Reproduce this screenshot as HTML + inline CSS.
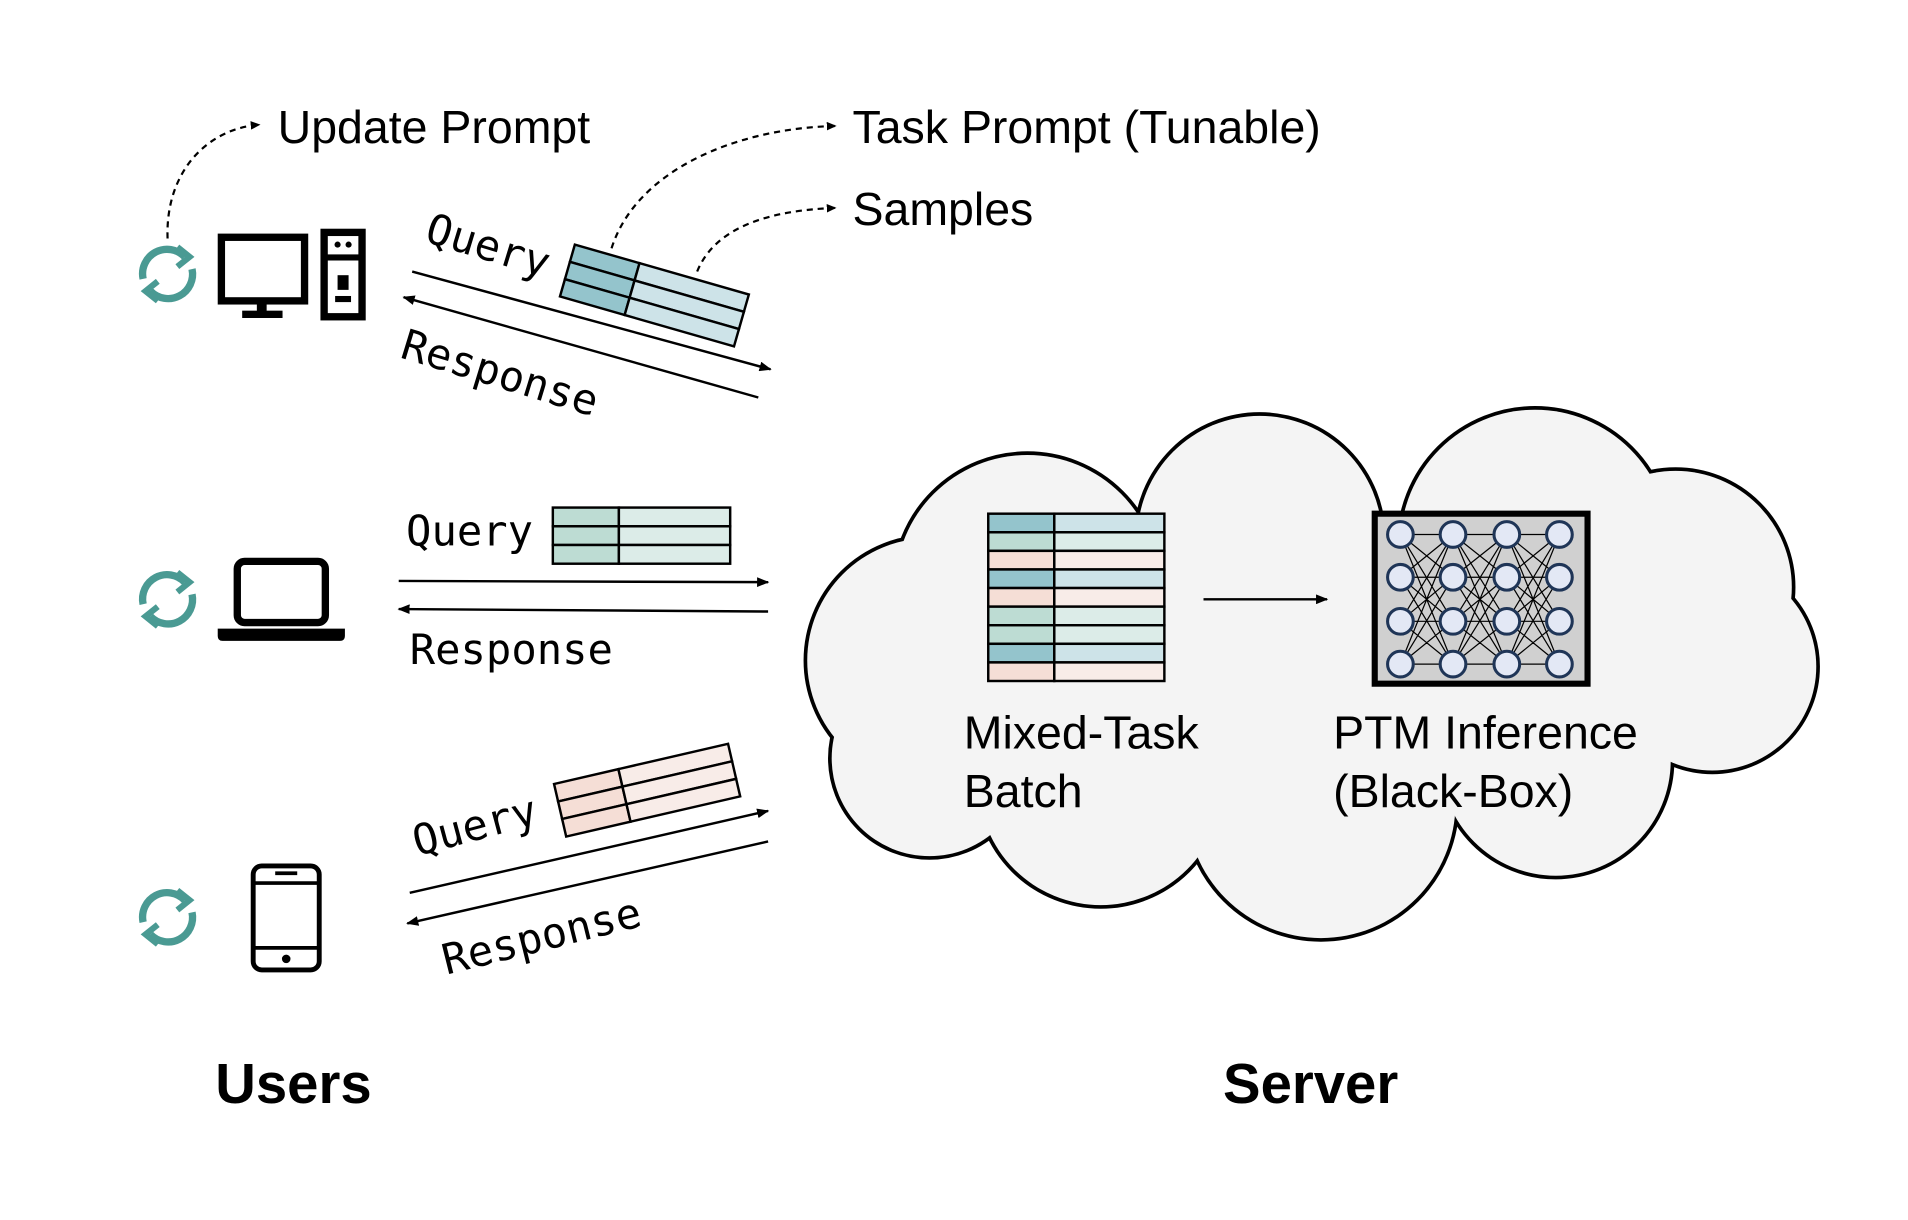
<!DOCTYPE html>
<html><head><meta charset="utf-8"><style>
html,body{margin:0;padding:0;background:#fff;}
svg{display:block}
.s{font-family:"Liberation Sans",sans-serif;font-size:38px;fill:#000}
.m{font-family:"DejaVu Sans Mono","Liberation Mono",monospace;font-size:34.5px;fill:#000}
.b{font-family:"Liberation Sans",sans-serif;font-size:46px;font-weight:bold;fill:#000}
</style></head><body>
<svg width="1908" height="1220" viewBox="0 0 1560 997.5" xmlns="http://www.w3.org/2000/svg">
<defs>
<marker id="ah" markerWidth="10" markerHeight="8" refX="9" refY="4" orient="auto" markerUnits="userSpaceOnUse"><path d="M0,0 L10,4 L0,8 z" fill="#000"/></marker>
<marker id="ah2" markerWidth="8" markerHeight="7" refX="7" refY="3.5" orient="auto" markerUnits="userSpaceOnUse"><path d="M0,0 L8,3.5 L0,7 z" fill="#000"/></marker>
<g id="ref">
<path d="M14,-14 A20,20 0 0 0 -20,4" fill="none" stroke="#4a9a93" stroke-width="6"/>
<path d="M-14,14 A20,20 0 0 0 20,-4" fill="none" stroke="#4a9a93" stroke-width="6"/>
<path d="M8,-22 L18,-14 L8,-6" fill="none" stroke="#4a9a93" stroke-width="5"/>
<path d="M-8,22 L-18,14 L-8,6" fill="none" stroke="#4a9a93" stroke-width="5"/>
</g>
</defs>
<rect width="1560" height="997.5" fill="#fff"/>

<!-- cloud -->
<g stroke="#000" stroke-width="6" fill="#f4f4f4">
<circle cx="760" cy="540" r="100"/><circle cx="840" cy="480" r="108"/><circle cx="1030" cy="440" r="100"/>
<circle cx="1255" cy="445" r="110"/><circle cx="1370" cy="480" r="95"/><circle cx="1400" cy="545" r="85"/>
<circle cx="1272" cy="622" r="94"/><circle cx="1080" cy="657" r="110"/><circle cx="900" cy="640" r="100"/>
<circle cx="760" cy="620" r="80"/>
</g>
<g fill="#f4f4f4">
<circle cx="760" cy="540" r="100"/><circle cx="840" cy="480" r="108"/><circle cx="1030" cy="440" r="100"/>
<circle cx="1255" cy="445" r="110"/><circle cx="1370" cy="480" r="95"/><circle cx="1400" cy="545" r="85"/>
<circle cx="1272" cy="622" r="94"/><circle cx="1080" cy="657" r="110"/><circle cx="900" cy="640" r="100"/>
<circle cx="760" cy="620" r="80"/>
<rect x="770" y="470" width="570" height="180"/>
</g>

<!-- batch table -->
<g stroke="#000" stroke-width="2">
<rect x="808" y="420" width="54" height="15.2" fill="#94c4cc"/><rect x="862" y="420" width="90" height="15.2" fill="#cde3e8"/>
<rect x="808" y="435.2" width="54" height="15.2" fill="#bddcd3"/><rect x="862" y="435.2" width="90" height="15.2" fill="#dcece8"/>
<rect x="808" y="450.4" width="54" height="15.2" fill="#f5ded6"/><rect x="862" y="450.4" width="90" height="15.2" fill="#f8ece8"/>
<rect x="808" y="465.6" width="54" height="15.2" fill="#94c4cc"/><rect x="862" y="465.6" width="90" height="15.2" fill="#cde3e8"/>
<rect x="808" y="480.8" width="54" height="15.2" fill="#f5ded6"/><rect x="862" y="480.8" width="90" height="15.2" fill="#f8ece8"/>
<rect x="808" y="496" width="54" height="15.2" fill="#bddcd3"/><rect x="862" y="496" width="90" height="15.2" fill="#dcece8"/>
<rect x="808" y="511.2" width="54" height="15.2" fill="#bddcd3"/><rect x="862" y="511.2" width="90" height="15.2" fill="#dcece8"/>
<rect x="808" y="526.4" width="54" height="15.2" fill="#94c4cc"/><rect x="862" y="526.4" width="90" height="15.2" fill="#cde3e8"/>
<rect x="808" y="541.6" width="54" height="15.2" fill="#f5ded6"/><rect x="862" y="541.6" width="90" height="15.2" fill="#f8ece8"/>
</g>
<line x1="984" y1="490" x2="1085" y2="490" stroke="#000" stroke-width="2" marker-end="url(#ah)"/>

<!-- NN -->
<rect x="1124" y="420" width="174" height="139" fill="#d0d0d0" stroke="#000" stroke-width="5"/>
<g stroke="#000" stroke-width="1">
<path d="M1145,437L1188,437L1145,472L1188,437L1145,508L1188,437L1145,543L1188,437 M1145,437L1188,472L1145,472L1188,472L1145,508L1188,472L1145,543L1188,472 M1145,437L1188,508L1145,472L1188,508L1145,508L1188,508L1145,543L1188,508 M1145,437L1188,543L1145,472L1188,543L1145,508L1188,543L1145,543L1188,543"/>
<path d="M1188,437L1232,437L1188,472L1232,437L1188,508L1232,437L1188,543L1232,437 M1188,437L1232,472L1188,472L1232,472L1188,508L1232,472L1188,543L1232,472 M1188,437L1232,508L1188,472L1232,508L1188,508L1232,508L1188,543L1232,508 M1188,437L1232,543L1188,472L1232,543L1188,508L1232,543L1188,543L1232,543"/>
<path d="M1232,437L1275,437L1232,472L1275,437L1232,508L1275,437L1232,543L1275,437 M1232,437L1275,472L1232,472L1275,472L1232,508L1275,472L1232,543L1275,472 M1232,437L1275,508L1232,472L1275,508L1232,508L1275,508L1232,543L1275,508 M1232,437L1275,543L1232,472L1275,543L1232,508L1275,543L1232,543L1275,543"/>
</g>
<g fill="#e3e8f5" stroke="#1f3557" stroke-width="2.5">
<circle cx="1145" cy="437" r="10.5"/><circle cx="1145" cy="472" r="10.5"/><circle cx="1145" cy="508" r="10.5"/><circle cx="1145" cy="543" r="10.5"/>
<circle cx="1188" cy="437" r="10.5"/><circle cx="1188" cy="472" r="10.5"/><circle cx="1188" cy="508" r="10.5"/><circle cx="1188" cy="543" r="10.5"/>
<circle cx="1232" cy="437" r="10.5"/><circle cx="1232" cy="472" r="10.5"/><circle cx="1232" cy="508" r="10.5"/><circle cx="1232" cy="543" r="10.5"/>
<circle cx="1275" cy="437" r="10.5"/><circle cx="1275" cy="472" r="10.5"/><circle cx="1275" cy="508" r="10.5"/><circle cx="1275" cy="543" r="10.5"/>
</g>

<text class="s" x="788" y="612">Mixed-Task</text>
<text class="s" x="788" y="660">Batch</text>
<text class="s" x="1090" y="612">PTM Inference</text>
<text class="s" x="1090" y="660">(Black-Box)</text>

<!-- top labels -->
<text class="s" x="227" y="117">Update Prompt</text>
<text class="s" x="697" y="117">Task Prompt (Tunable)</text>
<text class="s" x="697" y="184">Samples</text>
<g fill="none" stroke="#000" stroke-width="1.8" stroke-dasharray="5,4">
<path d="M137,195 C135,140 170,105 212,102" marker-end="url(#ah2)"/>
<path d="M500,203 C520,140 600,105 683,103" marker-end="url(#ah2)"/>
<path d="M570,222 C585,185 630,172 683,170" marker-end="url(#ah2)"/>
</g>

<!-- icons -->
<use href="#ref" x="137" y="224"/>
<use href="#ref" x="137" y="490"/>
<use href="#ref" x="137" y="750"/>
<rect x="181" y="194" width="68" height="52" fill="none" stroke="#000" stroke-width="6"/>
<rect x="210" y="246" width="8" height="10" fill="#000"/><rect x="198" y="254" width="33" height="6" fill="#000"/>
<rect x="262" y="187" width="37" height="75" fill="#000"/>
<rect x="268" y="193" width="25" height="15" fill="#fff"/><rect x="268" y="213" width="25" height="43" fill="#fff"/>
<circle cx="276" cy="200" r="2.5" fill="#000"/><circle cx="285" cy="200" r="2.5" fill="#000"/>
<rect x="276" y="225" width="9" height="12" fill="#000"/><rect x="274" y="242" width="13" height="5" fill="#000"/>
<rect x="194" y="459" width="72" height="50" rx="6" fill="none" stroke="#000" stroke-width="6"/>
<path d="M178,514 L282,514 L282,520 Q282,524 278,524 L182,524 Q178,524 178,520 Z" fill="#000"/>
<rect x="207" y="708" width="54" height="85" rx="7" fill="none" stroke="#000" stroke-width="4"/>
<line x1="207" y1="722" x2="261" y2="722" stroke="#000" stroke-width="3"/><line x1="207" y1="775" x2="261" y2="775" stroke="#000" stroke-width="3"/>
<line x1="225" y1="714" x2="243" y2="714" stroke="#000" stroke-width="3"/><circle cx="234" cy="784" r="3.5" fill="#000"/>

<!-- top arrows/table -->
<line x1="337" y1="222" x2="630" y2="302" stroke="#000" stroke-width="2" marker-end="url(#ah)"/>
<line x1="620" y1="325" x2="330" y2="243" stroke="#000" stroke-width="2" marker-end="url(#ah)"/>
<g transform="translate(470,200) rotate(16)" stroke="#000" stroke-width="2">
<rect x="0" y="0" width="55" height="14.7" fill="#94c4cc"/><rect x="55" y="0" width="93" height="14.7" fill="#cde3e8"/>
<rect x="0" y="14.7" width="55" height="14.7" fill="#94c4cc"/><rect x="55" y="14.7" width="93" height="14.7" fill="#cde3e8"/>
<rect x="0" y="29.4" width="55" height="14.7" fill="#94c4cc"/><rect x="55" y="29.4" width="93" height="14.7" fill="#cde3e8"/>
</g>
<text class="m" transform="translate(346,197) rotate(17)">Query</text>
<text class="m" transform="translate(326,292) rotate(17)">Response</text>

<!-- middle -->
<g stroke="#000" stroke-width="2">
<rect x="452" y="415" width="54" height="15.3" fill="#bddcd3"/><rect x="506" y="415" width="91" height="15.3" fill="#dcece8"/>
<rect x="452" y="430.3" width="54" height="15.3" fill="#bddcd3"/><rect x="506" y="430.3" width="91" height="15.3" fill="#dcece8"/>
<rect x="452" y="445.6" width="54" height="15.3" fill="#bddcd3"/><rect x="506" y="445.6" width="91" height="15.3" fill="#dcece8"/>
</g>
<line x1="326" y1="475" x2="628" y2="476" stroke="#000" stroke-width="2" marker-end="url(#ah)"/>
<line x1="628" y1="500" x2="326" y2="498" stroke="#000" stroke-width="2" marker-end="url(#ah)"/>
<text class="m" x="332" y="446">Query</text>
<text class="m" x="335" y="543">Response</text>

<!-- bottom -->
<g transform="translate(453,641) rotate(-13)" stroke="#000" stroke-width="2">
<rect x="0" y="0" width="54" height="14.7" fill="#f5ded6"/><rect x="54" y="0" width="92" height="14.7" fill="#f8ece8"/>
<rect x="0" y="14.7" width="54" height="14.7" fill="#f5ded6"/><rect x="54" y="14.7" width="92" height="14.7" fill="#f8ece8"/>
<rect x="0" y="29.4" width="54" height="14.7" fill="#f5ded6"/><rect x="54" y="29.4" width="92" height="14.7" fill="#f8ece8"/>
</g>
<line x1="335" y1="730" x2="628" y2="663" stroke="#000" stroke-width="2" marker-end="url(#ah)"/>
<line x1="628" y1="688" x2="333" y2="755" stroke="#000" stroke-width="2" marker-end="url(#ah)"/>
<text class="m" transform="translate(341,700) rotate(-15)">Query</text>
<text class="m" transform="translate(365,797) rotate(-14)">Response</text>

<text class="b" x="176" y="902">Users</text>
<text class="b" x="1000" y="902">Server</text>
</svg>
</body></html>
